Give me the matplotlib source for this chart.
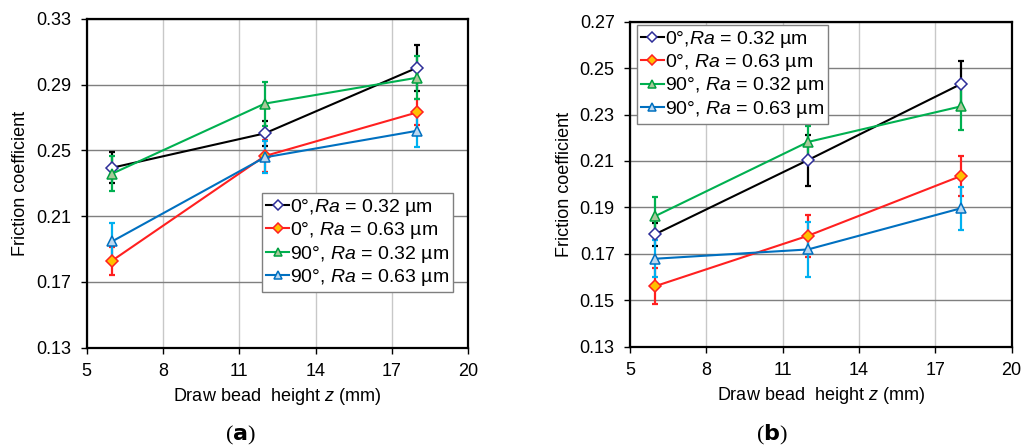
import matplotlib
matplotlib.use("Agg")
import matplotlib.pyplot as plt

plt.rcParams['font.family'] = ['Liberation Sans', 'DejaVu Sans']
plt.rcParams['mathtext.fontset'] = 'custom'
plt.rcParams['mathtext.rm'] = 'Liberation Sans'
plt.rcParams['mathtext.it'] = 'Liberation Sans:italic'

z = [6, 12, 18]

# Panel (a)
a_0_032 = [0.2395, 0.2604, 0.3004]
a_0_032_err = [0.0095, 0.0078, 0.014]
a_0_063 = [0.1830, 0.2466, 0.2732]
a_0_063_err = [0.0085, 0.0095, 0.008]
a_90_032 = [0.2359, 0.2785, 0.2943]
a_90_032_err = [0.0105, 0.0134, 0.013]
a_90_063 = [0.1947, 0.2458, 0.2620]
a_90_063_err = [0.011, 0.0097, 0.0097]

# Panel (b)
b_0_032 = [0.1785, 0.2104, 0.2431]
b_0_032_err = [0.005, 0.011, 0.010]
b_0_063 = [0.1561, 0.1778, 0.2035]
b_0_063_err = [0.0078, 0.009, 0.0088]
b_90_032 = [0.1863, 0.2182, 0.2335]
b_90_032_err = [0.008, 0.007, 0.010]
b_90_063 = [0.1679, 0.1719, 0.1896]
b_90_063_err = [0.008, 0.012, 0.0093]

labels = ["0°,$\\mathit{Ra}$ = 0.32 µm",
          "0°, $\\mathit{Ra}$ = 0.63 µm",
          "90°, $\\mathit{Ra}$ = 0.32 µm",
          "90°, $\\mathit{Ra}$ = 0.63 µm"]

xticks = [5, 8, 11, 14, 17, 20]
a_yticks = [0.13, 0.17, 0.21, 0.25, 0.29, 0.33]
b_yticks = [0.13, 0.15, 0.17, 0.19, 0.21, 0.23, 0.25, 0.27]

styles = [
    dict(color='black', marker='D', mec='#2e2e99', mfc='white', ecolor='black', ms=6),
    dict(color='#ff2020', marker='D', mec='#ff2020', mfc='#ffc000', ecolor='#ff2020', ms=6),
    dict(color='#00b050', marker='^', mec='#00a040', mfc='#a9c99a', ecolor='#00b050', ms=7.5),
    dict(color='#0070c0', marker='^', mec='#0070c0', mfc='#bcd8f0', ecolor='#00b0f0', ms=7.5),
]

fig = plt.figure(figsize=(10.24, 4.48), dpi=100)
axa = fig.add_axes([0.0847, 0.2239, 0.3725, 0.7337])
axb = fig.add_axes([0.6152, 0.2261, 0.3727, 0.7255])


def draw(ax, series, errs, yticks, ylim, legloc, anchor):
    handles = []
    for s, e, st, lab in zip(series, errs, styles, labels):
        ax.errorbar(z, s, yerr=e, fmt='none', ecolor=st['ecolor'], elinewidth=1.6,
                    capsize=2, capthick=1.6, zorder=3)
        h, = ax.plot(z, s, color=st['color'], lw=1.5, marker=st['marker'], ms=st['ms'],
                     mec=st['mec'], mfc=st['mfc'], mew=1.1, zorder=4, label=lab)
        handles.append(h)
    ax.set_xlim(5, 20)
    ax.set_ylim(*ylim)
    ax.set_xticks(xticks)
    ax.set_yticks(yticks)
    ax.set_yticklabels([f"{v:.2f}" for v in yticks])
    ax.xaxis.grid(True, color='#c8c8c8', lw=1)
    ax.yaxis.grid(True, color='#7f7f7f', lw=1)
    ax.set_axisbelow(True)
    for sp in ax.spines.values():
        sp.set_linewidth(1.6)
        sp.set_color('black')
    ax.tick_params(axis='both', labelsize=13, direction='out', length=4, width=1, pad=7)
    ax.set_xlabel("Draw bead  height $\\mathit{z}$ (mm)", fontsize=13, labelpad=4)
    ax.set_ylabel("Friction coefficient", fontsize=13, labelpad=5)
    leg = ax.legend(handles=handles, loc=legloc, fontsize=14, frameon=True, fancybox=False,
                    edgecolor='#7f7f7f', framealpha=1, handlelength=1.2, handletextpad=0.05,
                    borderpad=0.2, labelspacing=0.12, borderaxespad=0.0, markerscale=0.8,
                    bbox_to_anchor=anchor, bbox_transform=ax.transAxes)
    leg.get_frame().set_linewidth(1.0)
    return leg


draw(axa, [a_0_032, a_0_063, a_90_032, a_90_063],
     [a_0_032_err, a_0_063_err, a_90_032_err, a_90_063_err],
     a_yticks, (0.13, 0.33), 'lower right', (0.961, 0.17))
draw(axb, [b_0_032, b_0_063, b_90_032, b_90_063],
     [b_0_032_err, b_0_063_err, b_90_032_err, b_90_063_err],
     b_yticks, (0.13, 0.27), 'upper left', (0.018, 0.99))

fig.text(240 / 1024, 1 - 435 / 448, "($\\mathbf{a}$)", ha='center', va='center', fontsize=16,
         family='Liberation Serif')
fig.text(772 / 1024, 1 - 435 / 448, "($\\mathbf{b}$)", ha='center', va='center', fontsize=16,
         family='Liberation Serif')

fig.savefig("out.png", dpi=100)
